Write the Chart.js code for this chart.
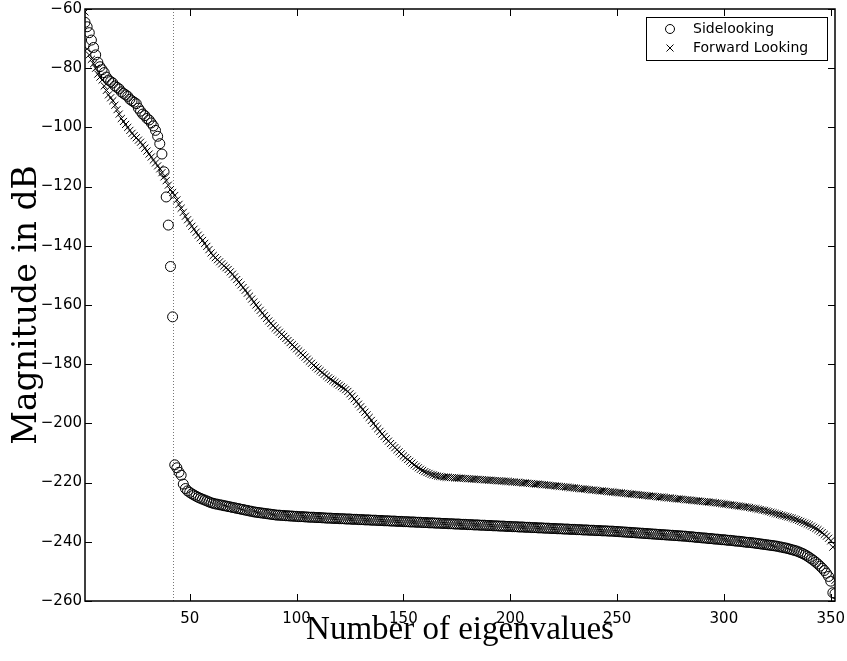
<!DOCTYPE html>
<html lang="en">
<head>
    <meta charset="UTF-8">
    <title>Eigenvalue spectrum</title>
    <script src="https://cdn.jsdelivr.net/npm/chart.js"></script>
    <style>
        html, body { margin: 0; padding: 0; background: #fff; }
        #wrap { width: 847px; height: 661px; }
    </style>
</head>
<body>
<div id="wrap"><canvas id="eigChart" width="847" height="661"></canvas></div>

<script>
    // eigenvalue magnitudes (dB), index 1..352
    const sidelooking = [
        -64.5, -66, -68, -70.5, -73, -75.5, -78, -79.5, -80.5, -81.5,
        -83, -84, -84.5, -85, -86, -86.5, -87, -88, -88.5, -89,
        -89.5, -90.5, -91, -91.5, -92, -93.5, -94.5, -95.5, -96, -97,
        -97.5, -98.5, -99.5, -101, -103, -105.5, -109, -115, -123.5, -133,
        -147, -164, -214, -215, -216.5, -217.5, -220.5, -222, -222.8, -223.3,
        -223.8, -224.2, -224.6, -225, -225.3, -225.6, -225.9, -226.2, -226.5, -226.8,
        -227, -227.2, -227.3, -227.5, -227.6, -227.8, -227.9, -228.1, -228.2, -228.4,
        -228.5, -228.7, -228.8, -229, -229.1, -229.3, -229.4, -229.6, -229.7, -229.9,
        -230, -230.1, -230.2, -230.3, -230.4, -230.5, -230.6, -230.7, -230.8, -230.9,
        -231, -231, -231.1, -231.1, -231.2, -231.2, -231.3, -231.3, -231.4, -231.4,
        -231.5, -231.5, -231.5, -231.6, -231.6, -231.7, -231.7, -231.7, -231.8, -231.8,
        -231.8, -231.9, -231.9, -232, -232, -232, -232.1, -232.1, -232.1, -232.2,
        -232.2, -232.2, -232.3, -232.3, -232.3, -232.4, -232.4, -232.4, -232.5, -232.5,
        -232.5, -232.6, -232.6, -232.6, -232.7, -232.7, -232.7, -232.8, -232.8, -232.8,
        -232.9, -232.9, -232.9, -233, -233, -233, -233.1, -233.1, -233.1, -233.2,
        -233.2, -233.2, -233.3, -233.3, -233.3, -233.4, -233.4, -233.4, -233.5, -233.5,
        -233.5, -233.6, -233.6, -233.6, -233.7, -233.7, -233.7, -233.8, -233.8, -233.8,
        -233.9, -233.9, -233.9, -234, -234, -234, -234.1, -234.1, -234.1, -234.2,
        -234.2, -234.2, -234.3, -234.3, -234.3, -234.4, -234.4, -234.4, -234.5, -234.5,
        -234.5, -234.6, -234.6, -234.6, -234.7, -234.7, -234.7, -234.8, -234.8, -234.8,
        -234.9, -234.9, -234.9, -235, -235, -235, -235.1, -235.1, -235.1, -235.2,
        -235.2, -235.2, -235.3, -235.3, -235.3, -235.4, -235.4, -235.4, -235.5, -235.5,
        -235.5, -235.6, -235.6, -235.6, -235.7, -235.7, -235.7, -235.8, -235.8, -235.8,
        -235.9, -235.9, -235.9, -236, -236, -236, -236.1, -236.1, -236.1, -236.2,
        -236.2, -236.2, -236.3, -236.3, -236.3, -236.4, -236.4, -236.4, -236.5, -236.5,
        -236.6, -236.6, -236.7, -236.7, -236.8, -236.8, -236.9, -236.9, -237, -237,
        -237.1, -237.1, -237.2, -237.2, -237.3, -237.3, -237.4, -237.4, -237.5, -237.5,
        -237.6, -237.6, -237.7, -237.7, -237.8, -237.8, -237.9, -237.9, -238, -238,
        -238.1, -238.1, -238.2, -238.3, -238.3, -238.4, -238.5, -238.5, -238.6, -238.7,
        -238.7, -238.8, -238.9, -238.9, -239, -239.1, -239.1, -239.2, -239.3, -239.3,
        -239.4, -239.5, -239.5, -239.6, -239.7, -239.8, -239.8, -239.9, -240, -240.1,
        -240.2, -240.2, -240.3, -240.4, -240.5, -240.6, -240.7, -240.8, -240.9, -241,
        -241.1, -241.2, -241.3, -241.4, -241.5, -241.7, -241.8, -242, -242.1, -242.3,
        -242.5, -242.7, -242.9, -243.1, -243.4, -243.7, -244, -244.4, -244.8, -245.3,
        -245.8, -246.3, -246.9, -247.5, -248.2, -248.9, -249.7, -250.6, -251.7, -253.3,
        -257.2, -257.5
    ];

    const forwardLooking = [
        -61, -73.5, -75.5, -77, -78.5, -80, -82, -83, -84, -86,
        -87.5, -89, -90, -91, -92.5, -94, -95.5, -97, -98, -99,
        -100, -101, -102, -102.8, -103.5, -104.3, -105, -106, -107, -108,
        -109, -110, -111, -112, -113, -114, -115.3, -116.7, -118, -119.5,
        -121, -122, -123, -124.5, -126, -127.3, -128.7, -130, -131.2, -132.3,
        -133.4, -134.4, -135.4, -136.4, -137.3, -138.2, -139.2, -140.2, -141.3, -142.4,
        -143.3, -144, -144.7, -145.4, -146.1, -146.8, -147.4, -148, -148.8, -149.6,
        -150.5, -151.4, -152.3, -153.2, -154.1, -155, -156, -157, -158, -159,
        -160, -160.9, -161.8, -162.7, -163.6, -164.5, -165.4, -166.2, -167, -167.8,
        -168.5, -169.2, -169.9, -170.6, -171.3, -172, -172.7, -173.4, -174.1, -174.8,
        -175.5, -176.2, -176.9, -177.6, -178.3, -179, -179.7, -180.4, -181, -181.6,
        -182.2, -182.8, -183.4, -184, -184.6, -185.1, -185.6, -186.1, -186.6, -187.1,
        -187.6, -188.1, -188.6, -189.2, -190, -190.8, -191.7, -192.6, -193.5, -194.4,
        -195.3, -196.2, -197.1, -198, -199, -200, -200.9, -201.8, -202.7, -203.6,
        -204.4, -205.2, -206, -206.8, -207.5, -208.2, -208.9, -209.6, -210.3, -211,
        -211.6, -212.2, -212.8, -213.4, -214, -214.5, -215, -215.5, -215.9, -216.3,
        -216.6, -216.9, -217.2, -217.4, -217.6, -217.8, -217.9, -218, -218.1, -218.2,
        -218.2, -218.3, -218.3, -218.4, -218.4, -218.5, -218.5, -218.6, -218.6, -218.7,
        -218.7, -218.8, -218.8, -218.9, -218.9, -219, -219, -219.1, -219.1, -219.2,
        -219.2, -219.3, -219.3, -219.4, -219.4, -219.5, -219.5, -219.6, -219.6, -219.7,
        -219.8, -219.8, -219.9, -219.9, -220, -220.1, -220.1, -220.2, -220.3, -220.3,
        -220.4, -220.5, -220.5, -220.6, -220.7, -220.7, -220.8, -220.9, -221, -221,
        -221.1, -221.2, -221.3, -221.3, -221.4, -221.5, -221.6, -221.7, -221.7, -221.8,
        -221.9, -222, -222.1, -222.1, -222.2, -222.3, -222.4, -222.5, -222.5, -222.6,
        -222.7, -222.8, -222.8, -222.9, -223, -223.1, -223.1, -223.2, -223.3, -223.4,
        -223.4, -223.5, -223.6, -223.7, -223.7, -223.8, -223.9, -224, -224, -224.1,
        -224.2, -224.3, -224.3, -224.4, -224.5, -224.6, -224.6, -224.7, -224.8, -224.9,
        -224.9, -225, -225.1, -225.2, -225.2, -225.3, -225.4, -225.5, -225.5, -225.6,
        -225.7, -225.8, -225.8, -225.9, -226, -226.1, -226.1, -226.2, -226.3, -226.4,
        -226.4, -226.5, -226.6, -226.7, -226.7, -226.8, -226.9, -227, -227.1, -227.2,
        -227.3, -227.4, -227.5, -227.6, -227.7, -227.8, -227.9, -228, -228.1, -228.2,
        -228.3, -228.4, -228.6, -228.7, -228.8, -229, -229.1, -229.3, -229.4, -229.6,
        -229.8, -230, -230.2, -230.4, -230.6, -230.8, -231, -231.2, -231.4, -231.6,
        -231.8, -232, -232.3, -232.5, -232.8, -233.1, -233.4, -233.7, -234, -234.3,
        -234.7, -235.1, -235.5, -235.9, -236.4, -236.9, -237.5, -238.1, -238.8, -239.7,
        -241.8, -253
    ];

    const seriesNames = ['Sidelooking', 'Forward Looking'];
    const xTicks = [50, 100, 150, 200, 250, 300, 350];
    const yTicks = [-260, -240, -220, -200, -180, -160, -140, -120, -100, -80, -60];
    const rankLine = 42;   // dotted vertical marker

    const tickFont = { family: '"DejaVu Sans", sans-serif', size: 15 };

    const toPoints = arr => arr.map((v, i) => ({ x: i + 1, y: v }));
    const minus = v => (v < 0 ? '\u2212' + Math.abs(v) : String(v));

    // frame, inward ticks on all four sides, rank marker and legend box
    const matlabFrame = {
        id: 'matlabFrame',
        beforeDatasetsDraw(chart) {
            const { ctx, chartArea: a, scales: { x } } = chart;
            const px = Math.round(x.getPixelForValue(rankLine)) + 0.5;
            ctx.save();
            ctx.strokeStyle = '#777';
            ctx.lineWidth = 1;
            ctx.setLineDash([1, 2]);
            ctx.beginPath();
            ctx.moveTo(px, a.top);
            ctx.lineTo(px, a.bottom);
            ctx.stroke();
            ctx.restore();
        },
        afterDraw(chart) {
            const { ctx, chartArea: a, scales: { x, y } } = chart;
            const tl = 7;
            ctx.save();
            ctx.strokeStyle = '#000';
            ctx.lineWidth = 1.5;
            ctx.strokeRect(a.left, a.top, a.right - a.left, a.bottom - a.top);

            ctx.lineWidth = 1;
            ctx.beginPath();
            xTicks.forEach(v => {
                const p = Math.round(x.getPixelForValue(v)) + 0.5;
                ctx.moveTo(p, a.bottom); ctx.lineTo(p, a.bottom - tl);
                ctx.moveTo(p, a.top); ctx.lineTo(p, a.top + tl);
            });
            yTicks.forEach(v => {
                const p = Math.round(y.getPixelForValue(v)) + 0.5;
                ctx.moveTo(a.left, p); ctx.lineTo(a.left + tl, p);
                ctx.moveTo(a.right, p); ctx.lineTo(a.right - tl, p);
            });
            ctx.stroke();

            // legend
            const bw = 181, bh = 43;
            const bx = Math.round(a.right - 8 - bw), by = Math.round(a.top + 8);
            ctx.fillStyle = '#fff';
            ctx.fillRect(bx, by, bw, bh);
            ctx.strokeStyle = '#000';
            ctx.lineWidth = 1;
            ctx.strokeRect(bx + 0.5, by + 0.5, bw, bh);

            const mx = bx + 24;
            const r1 = by + 12, r2 = by + 31;
            ctx.beginPath();
            ctx.arc(mx, r1, 4.5, 0, Math.PI * 2);
            ctx.stroke();
            ctx.beginPath();
            ctx.moveTo(mx - 3.5, r2 - 3.5); ctx.lineTo(mx + 3.5, r2 + 3.5);
            ctx.moveTo(mx + 3.5, r2 - 3.5); ctx.lineTo(mx - 3.5, r2 + 3.5);
            ctx.stroke();

            ctx.fillStyle = '#000';
            ctx.font = '14px "DejaVu Sans", sans-serif';
            ctx.textBaseline = 'middle';
            ctx.textAlign = 'left';
            ctx.fillText(seriesNames[0], bx + 47, r1);
            ctx.fillText(seriesNames[1], bx + 47, r2);
            ctx.restore();
        }
    };

    new Chart(document.getElementById('eigChart'), {
        type: 'scatter',
        data: {
            datasets: [
                {
                    label: seriesNames[1],
                    data: toPoints(forwardLooking),
                    pointStyle: 'crossRot',
                    pointRadius: 5,
                    borderColor: '#000',
                    backgroundColor: 'rgba(0,0,0,0)',
                    pointBorderWidth: 1
                },
                {
                    label: seriesNames[0],
                    data: toPoints(sidelooking),
                    pointStyle: 'circle',
                    pointRadius: 5,
                    borderColor: '#000',
                    backgroundColor: 'rgba(0,0,0,0)',
                    pointBorderWidth: 1
                }
            ]
        },
        options: {
            responsive: false,
            animation: false,
            devicePixelRatio: 1,
            layout: { padding: { left: 0, top: 9, right: 12, bottom: 0 } },
            plugins: {
                legend: { display: false },
                tooltip: { enabled: false }
            },
            scales: {
                x: {
                    type: 'linear',
                    min: 1,
                    max: 352,
                    afterBuildTicks: s => { s.ticks = xTicks.map(v => ({ value: v })); },
                    afterFit: s => { s.height = 60; s.paddingLeft = 0; s.paddingRight = 0; },
                    grid: { display: false, drawTicks: false },
                    border: { display: false },
                    ticks: { color: '#000', font: tickFont, padding: 9, maxRotation: 0 },
                    title: {
                        display: true,
                        text: 'Number of eigenvalues',
                        color: '#000',
                        font: { family: '"Liberation Serif", "Times New Roman", serif', size: 33 },
                        padding: { top: 0, bottom: 11 }
                    }
                },
                y: {
                    min: -260,
                    max: -60,
                    afterBuildTicks: s => { s.ticks = yTicks.map(v => ({ value: v })); },
                    afterFit: s => { s.width = 85; s.paddingTop = 0; s.paddingBottom = 0; },
                    grid: { display: false, drawTicks: false },
                    border: { display: false },
                    ticks: { color: '#000', font: tickFont, padding: 3, callback: v => minus(v) },
                    title: {
                        display: true,
                        text: 'Magnitude in dB',
                        color: '#000',
                        font: { family: '"DejaVu Serif", serif', size: 33 },
                        padding: { top: 8, bottom: 0 }
                    }
                }
            }
        },
        plugins: [matlabFrame]
    });
</script>
</body>
</html>
